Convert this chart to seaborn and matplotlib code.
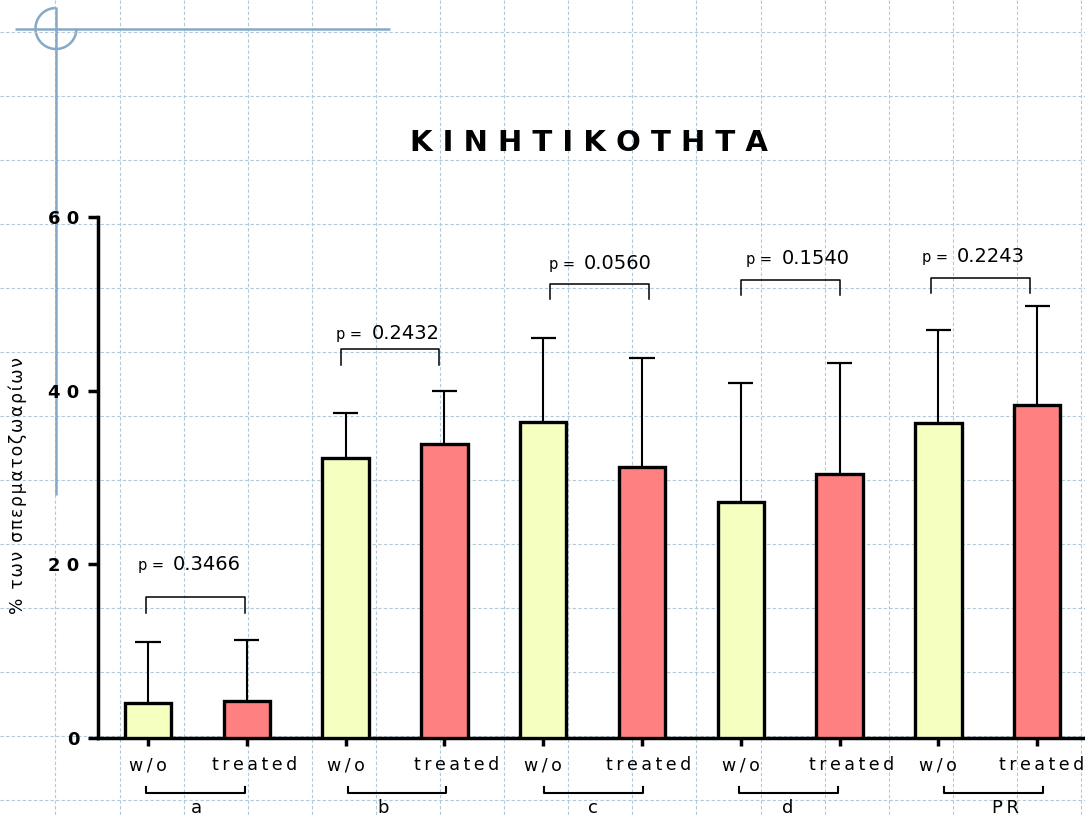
import numpy as np
import pandas as pd
import matplotlib
matplotlib.use("Agg")
import matplotlib.pyplot as plt
from matplotlib.patches import Arc
from matplotlib.transforms import ScaledTranslation
import seaborn as sns

# ---- data -------------------------------------------------------------
groups = ["a", "b", "c", "d", "PR"]
conditions = ["w/o", "treated"]
mean_wo = [4.0, 32.2, 36.4, 27.2, 36.3]
mean_treated = [4.3, 33.9, 31.2, 30.4, 38.3]
upper_wo = [11.1, 37.4, 46.1, 40.9, 47.0]
upper_treated = [11.3, 40.0, 43.8, 43.2, 49.7]
p_values = ["0.3466", "0.2432", "0.0560", "0.1540", "0.2243"]
y_ticks = [0, 20, 40, 60]

title = "ΚΙΝΗΤΙΚΟΤΗΤΑ"
y_label = "% των σπερματοζωαρίων"

# ---- layout of annotations (data units) --------------------------------
bracket_top = [16.2, 44.8, 52.3, 52.8, 53.0]
bracket_leg = 1.8
bracket_shift = [-0.02, -0.05, 0.07, 0.0, -0.07]
p_text_x = [0.25, 0.26, 0.41, 0.41, 0.19]
p_text_base = [19.4, 46.0, 54.0, 54.6, 54.8]
grp_shift = [-0.02, 0.02, 0.01, -0.02, 0.06]
grp_label_x = [0.49, 0.38, 0.50, 0.47, 0.68]
treated_shift_px = [8, 12, 7, 12, 4]

plt.rcParams["font.family"] = ["DejaVu Sans"]

W, H = 1085, 816
fig = plt.figure(figsize=(W / 100, H / 100), dpi=100)

# ---- background: dashed sheet grid and corner ornament ------------------
bg = fig.add_axes([0, 0, 1, 1])
bg.set_xlim(0, W)
bg.set_ylim(H, 0)
bg.axis("off")
grid_col = "#b2c9d7"
for gx in np.arange(-8.6, W, 64.1):
    bg.plot([gx, gx], [0, H], color=grid_col, lw=0.8, dashes=(3, 2))
for gy in np.arange(31.5, H, 64.0):
    bg.plot([0, W], [gy, gy], color=grid_col, lw=0.8, dashes=(3, 2))
orn = "#86a9c8"
bg.plot([15, 390], [29, 29], color=orn, lw=1.8, solid_capstyle="butt")
bg.plot([55.5, 55.5], [7, 495], color=orn, lw=1.8, solid_capstyle="butt")
bg.add_patch(Arc((56, 28.5), 41, 41, theta1=0, theta2=270, color=orn, lw=1.8))

# ---- main chart ---------------------------------------------------------
ax = fig.add_axes([98 / W, 78 / H, 987 / W, 521 / H])
ax.set_facecolor("none")

slots = [f"{g}|{c}" for g in groups for c in conditions]
df = pd.DataFrame({
    "slot": slots,
    "condition": conditions * len(groups),
    "mean": [v for pair in zip(mean_wo, mean_treated) for v in pair],
    "upper": [v for pair in zip(upper_wo, upper_treated) for v in pair],
})
palette = {"w/o": "#F4FFC0", "treated": "#FF8080"}
sns.barplot(data=df, x="slot", y="mean", hue="condition", order=slots,
            palette=palette, dodge=False, width=0.47, saturation=1,
            edgecolor="black", linewidth=2.4, errorbar=None, legend=False,
            ax=ax, zorder=3)

pos = np.arange(len(df))
# one-sided error bars
ax.vlines(pos, df["mean"], df["upper"], color="black", lw=1.5, zorder=2)
ax.hlines(df["upper"], pos - 0.127, pos + 0.127, color="black", lw=1.6, zorder=2)

ax.set_xlim(-0.506, 9.484)
ax.set_ylim(0, 60)
for s in ["top", "right"]:
    ax.spines[s].set_visible(False)
for s in ["left", "bottom"]:
    ax.spines[s].set_linewidth(2.5)
    ax.spines[s].set_color("black")

ax.set_yticks(y_ticks)
ax.set_yticklabels([" ".join(str(t)) for t in y_ticks], fontweight="bold", fontsize=13)
ax.tick_params(axis="y", length=7.5, width=2.5, pad=6, direction="out")

spaced = lambda s, sep="\u2009": sep.join(s)
ax.set_xticks(pos)
ax.set_xticklabels([spaced(c) for c in df["condition"]], fontsize=12.5)
ax.tick_params(axis="x", length=6, width=2.5, pad=7, direction="out")
ax.set_xlabel("")
ax.set_ylabel("")
k = 0
for lbl, c in zip(ax.get_xticklabels(), df["condition"]):
    if c == "treated":
        shift = ScaledTranslation(treated_shift_px[k] / 100, 0, fig.dpi_scale_trans)
        lbl.set_transform(lbl.get_transform() + shift)
        k += 1

# p-value brackets over each pair
for i in range(len(groups)):
    x0 = 2 * i + bracket_shift[i]
    x1 = 2 * i + 1 + bracket_shift[i]
    top = bracket_top[i]
    ax.plot([x0, x0, x1, x1], [top - bracket_leg, top, top, top - bracket_leg],
            color="black", lw=1.1, clip_on=False, zorder=4)
    nx = 2 * i + p_text_x[i]
    ax.text(nx, p_text_base[i], p_values[i], fontsize=14, ha="left", va="baseline")
    ax.text(nx - 0.09, p_text_base[i], "p =", fontsize=10.5, ha="right", va="baseline")

# group brackets under the axis
for i, g in enumerate(groups):
    x0 = 2 * i + grp_shift[i]
    x1 = 2 * i + 1 + grp_shift[i]
    ax.plot([x0, x0, x1, x1], [-5.64, -6.33, -6.33, -5.64], color="black",
            lw=1.5, clip_on=False)
    ax.text(2 * i + grp_label_x[i], -8.6, spaced(g) if len(g) > 1 else g,
            fontsize=13, ha="center", va="baseline")

fig.text(589 / W, 1 - 150.7 / H, " ".join(title), ha="center", va="baseline",
         fontsize=21, fontweight="bold")
fig.text(18 / W, 1 - 486 / H, spaced(y_label, "\u200a"), rotation=90,
         ha="center", va="center", fontsize=12.3)

fig.savefig("out.png", dpi=100)
